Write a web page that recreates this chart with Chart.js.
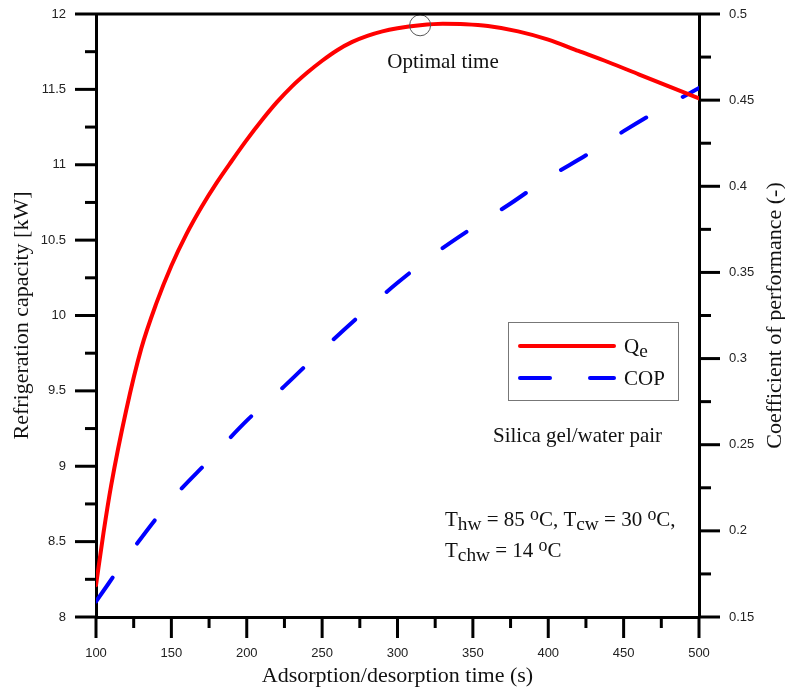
<!DOCTYPE html>
<html>
<head>
<meta charset="utf-8">
<script src="https://cdn.jsdelivr.net/npm/chart.js@4"></script>
<style>
  html, body { margin: 0; padding: 0; background: #fff; }
  #wrap { width: 785px; height: 689px; }
</style>
</head>
<body>
<div id="wrap"><canvas id="myChart" width="785" height="689"></canvas></div>
<script>
const ctx = document.getElementById('myChart');

// cycle time (s) and cooling capacity Qe (kW)
const times = [100, 105, 110, 120, 130, 140, 150, 160, 170, 180, 190, 200, 210, 220, 230, 240, 250,
  260, 270, 280, 290, 300, 315, 330, 345, 360, 380, 400, 420, 440, 460, 480, 500];
const capacity = [8.21, 8.56, 8.87, 9.37, 9.78, 10.08, 10.33, 10.54, 10.72, 10.88, 11.025, 11.165, 11.295,
  11.415, 11.52, 11.61, 11.69, 11.76, 11.815, 11.855, 11.885, 11.905, 11.925, 11.935, 11.932, 11.92,
  11.885, 11.83, 11.755, 11.68, 11.60, 11.52, 11.44];

// COP against cycle time
const copTimes = [100, 125, 150, 175, 200, 225, 250, 275, 300, 325, 350, 375, 400, 425, 450, 475, 500];
const copValues = [0.159, 0.190, 0.218, 0.241, 0.264, 0.284, 0.305, 0.325, 0.344, 0.361, 0.376,
  0.390, 0.405, 0.418, 0.432, 0.445, 0.457];

// marked optimum
const optimalTime = 315;
const optimalCapacity = 11.925;

// axis ranges and tick steps (minor step, label step)
const xRange = [100, 500], xSteps = [25, 50];
const yRange = [8, 12], ySteps = [0.25, 0.5];
const y1Range = [0.15, 0.5], y1Steps = [0.025, 0.05];

const serif = '"Liberation Serif", "Times New Roman", serif';
Chart.defaults.font.family = '"Liberation Sans", Arial, sans-serif';
Chart.defaults.font.size = 13;
Chart.defaults.color = '#222';

function isMajor(v, step) {
  const r = v / step;
  return Math.abs(r - Math.round(r)) < 1e-6;
}

// draws a line of text with sub/superscript pieces
function richText(c, x, y, parts, size) {
  let cx = x;
  parts.forEach((p) => {
    let s = size, dy = 0;
    if (p[1] === 'sub') { s = size * 0.92; dy = 4; }
    if (p[1] === 'sup') { s = size * 0.85; dy = -6; }
    c.font = s + 'px ' + serif;
    c.fillText(p[0], cx, y + dy);
    cx += c.measureText(p[0]).width;
  });
}

const decorations = {
  id: 'decorations',
  afterDraw(chart) {
    const c = chart.ctx;
    const area = chart.chartArea;
    const sx = chart.scales.x, sy = chart.scales.y, sy1 = chart.scales.y1;
    c.save();
    c.strokeStyle = '#000';
    c.lineWidth = 3;
    c.lineCap = 'butt';

    // top frame line
    c.beginPath();
    c.moveTo(area.left, area.top);
    c.lineTo(area.right, area.top);
    c.stroke();

    // outward tick marks, long on labelled values
    sx.ticks.forEach((t) => {
      const px = sx.getPixelForValue(t.value);
      const len = isMajor(t.value, xSteps[1]) ? 21 : 11;
      c.beginPath(); c.moveTo(px, area.bottom); c.lineTo(px, area.bottom + len); c.stroke();
    });
    sy.ticks.forEach((t) => {
      const py = sy.getPixelForValue(t.value);
      const len = isMajor(t.value, ySteps[1]) ? 21 : 11;
      c.beginPath(); c.moveTo(area.left, py); c.lineTo(area.left - len, py); c.stroke();
    });
    sy1.ticks.forEach((t) => {
      const py = sy1.getPixelForValue(t.value);
      const len = isMajor(t.value, y1Steps[1]) ? 21 : 12;
      c.beginPath(); c.moveTo(area.right, py); c.lineTo(area.right + len, py); c.stroke();
    });

    // axis titles
    c.fillStyle = '#111';
    c.font = '22px ' + serif;
    c.textAlign = 'center';
    c.textBaseline = 'middle';
    c.fillText('Adsorption/desorption time (s)', (area.left + area.right) / 2, 676);
    c.save();
    c.translate(22, (area.top + area.bottom) / 2);
    c.rotate(-Math.PI / 2);
    c.fillText('Refrigeration capacity [kW]', 0, 0);
    c.restore();
    c.save();
    c.translate(775, (area.top + area.bottom) / 2);
    c.rotate(-Math.PI / 2);
    c.fillText('Coefficient of performance (-)', 0, 0);
    c.restore();

    // annotations
    c.font = '21px ' + serif;
    c.fillText('Optimal time', 443, 62);
    c.textAlign = 'left';
    c.textBaseline = 'alphabetic';
    c.fillText('Silica gel/water pair', 493, 442);
    richText(c, 445, 526, [['T'], ['hw', 'sub'], [' = 85 '], ['o', 'sup'], ['C, T'], ['cw', 'sub'],
      [' = 30 '], ['o', 'sup'], ['C,']], 21);
    richText(c, 445, 557, [['T'], ['chw', 'sub'], [' = 14 '], ['o', 'sup'], ['C']], 21);

    // legend box
    c.lineWidth = 1;
    c.strokeStyle = '#777';
    c.strokeRect(508.5, 322.5, 170, 78);
    c.lineWidth = 4;
    c.lineCap = 'round';
    c.strokeStyle = '#ff0000';
    c.beginPath(); c.moveTo(520, 346); c.lineTo(614, 346); c.stroke();
    c.strokeStyle = '#0000ff';
    c.beginPath(); c.moveTo(520, 378); c.lineTo(550, 378); c.stroke();
    c.beginPath(); c.moveTo(590, 378); c.lineTo(614, 378); c.stroke();
    c.fillStyle = '#111';
    richText(c, 624, 353, [['Q'], ['e', 'sub']], 21);
    richText(c, 624, 385, [['COP']], 21);
    c.restore();
  }
};

new Chart(ctx, {
  type: 'line',
  data: {
    datasets: [
      {
        label: 'Optimal time',
        data: [{ x: optimalTime, y: optimalCapacity }],
        yAxisID: 'y',
        showLine: false,
        pointRadius: 10.5,
        pointBackgroundColor: 'rgba(0,0,0,0)',
        pointBorderColor: '#555',
        pointBorderWidth: 1
      },
      {
        label: 'Qe',
        data: times.map((t, i) => ({ x: t, y: capacity[i] })),
        yAxisID: 'y',
        borderColor: '#ff0000',
        borderWidth: 4,
        borderCapStyle: 'round',
        pointRadius: 0,
        cubicInterpolationMode: 'monotone'
      },
      {
        label: 'COP',
        data: copTimes.map((t, i) => ({ x: t, y: copValues[i] })),
        yAxisID: 'y1',
        borderColor: '#0000ff',
        borderWidth: 4,
        borderCapStyle: 'round',
        borderDash: [29, 42],
        pointRadius: 0,
        cubicInterpolationMode: 'monotone'
      }
    ]
  },
  options: {
    responsive: false,
    animation: false,
    layout: { padding: { top: 14, left: 0, right: 0, bottom: 0 } },
    plugins: { legend: { display: false }, tooltip: { enabled: false } },
    scales: {
      x: {
        type: 'linear',
        min: xRange[0], max: xRange[1],
        afterFit(s) { s.height = 72; s.paddingLeft = 0; s.paddingRight = 0; },
        grid: { display: false, drawTicks: false },
        border: { display: true, width: 3, color: '#000' },
        ticks: {
          stepSize: xSteps[0], autoSkip: false, maxRotation: 0, padding: 29,
          callback: (v) => isMajor(v, xSteps[1]) ? String(v) : ''
        }
      },
      y: {
        position: 'left',
        min: yRange[0], max: yRange[1],
        afterFit(s) { s.width = 96; s.paddingTop = 0; s.paddingBottom = 0; },
        grid: { display: false, drawTicks: false },
        border: { display: true, width: 3, color: '#000' },
        ticks: {
          stepSize: ySteps[0], autoSkip: false, padding: 30,
          callback: (v) => isMajor(v, ySteps[1]) ? String(parseFloat(v.toFixed(2))) : ''
        }
      },
      y1: {
        position: 'right',
        min: y1Range[0], max: y1Range[1],
        afterFit(s) { s.width = 86; s.paddingTop = 0; s.paddingBottom = 0; },
        grid: { display: false, drawTicks: false },
        border: { display: true, width: 3, color: '#000' },
        ticks: {
          stepSize: y1Steps[0], autoSkip: false, padding: 30,
          callback: (v) => isMajor(v, y1Steps[1]) ? String(parseFloat(v.toFixed(2))) : ''
        }
      }
    }
  },
  plugins: [decorations]
});
</script>
</body>
</html>
